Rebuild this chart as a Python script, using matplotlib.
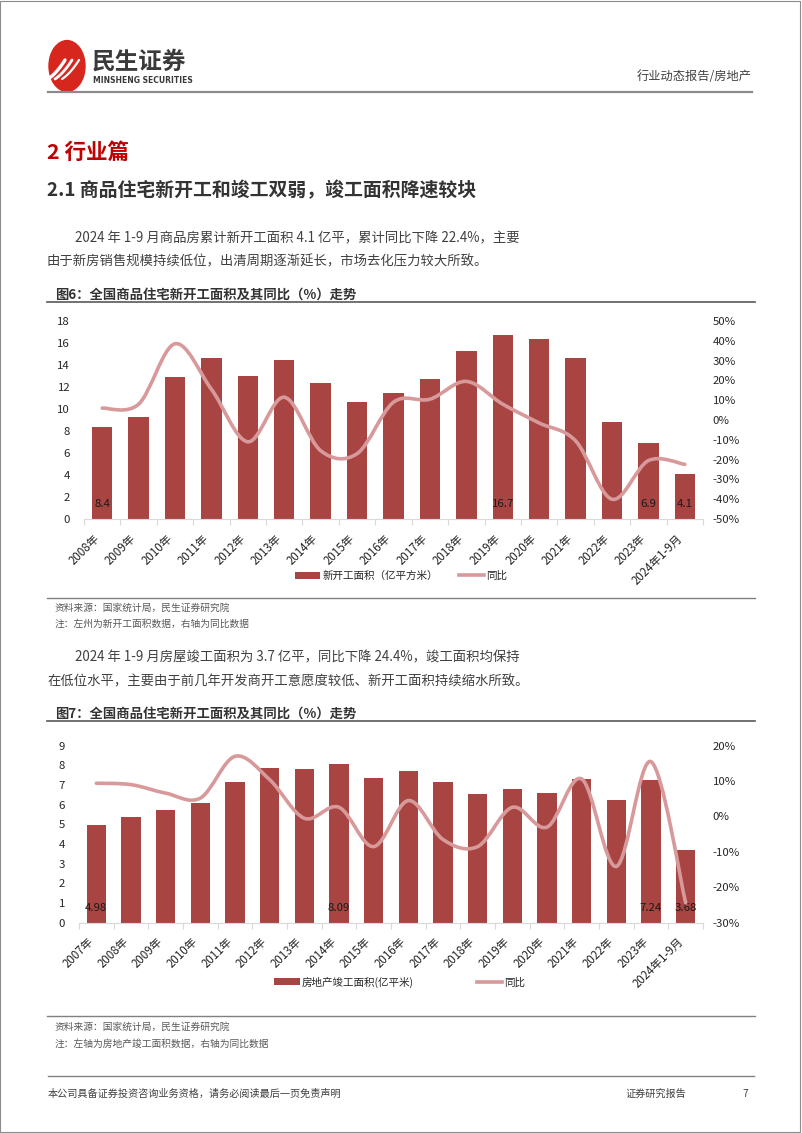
import numpy as np
import matplotlib
matplotlib.use("Agg")
import matplotlib.pyplot as plt
from matplotlib.path import Path
from matplotlib.patches import PathPatch, Patch, Circle, Rectangle
from matplotlib.lines import Line2D
from matplotlib.ticker import FixedLocator, FuncFormatter

plt.rcParams["font.family"] = ["Noto Sans CJK SC", "DejaVu Sans"]
plt.rcParams["axes.unicode_minus"] = False

# ---- data: figure 6 (new starts) ----
starts_cats = ["2008年", "2009年", "2010年", "2011年", "2012年", "2013年", "2014年",
               "2015年", "2016年", "2017年", "2018年", "2019年", "2020年", "2021年",
               "2022年", "2023年", "2024年1-9月"]
starts_area = [8.4, 9.3, 12.9, 14.6, 13.0, 14.5, 12.4, 10.6, 11.5, 12.7, 15.3, 16.7,
               16.4, 14.6, 8.8, 6.9, 4.1]
starts_yoy = [6.0, 8.0, 38.5, 15.5, -11.0, 11.5, -15.5, -17.0, 9.0, 10.5, 19.5, 8.0,
              -1.5, -10.5, -40.0, -20.5, -22.4]
starts_labeled = [0, 11, 15, 16]

# ---- data: figure 7 (completions) ----
compl_cats = ["2007年", "2008年", "2009年", "2010年", "2011年", "2012年", "2013年",
              "2014年", "2015年", "2016年", "2017年", "2018年", "2019年", "2020年",
              "2021年", "2022年", "2023年", "2024年1-9月"]
compl_area = [4.98, 5.40, 5.75, 6.10, 7.15, 7.86, 7.84, 8.09, 7.35, 7.70, 7.15, 6.56,
              6.80, 6.59, 7.30, 6.25, 7.24, 3.68]
compl_yoy = [9.4, 9.0, 6.6, 5.2, 17.0, 10.4, -0.5, 2.6, -8.5, 4.5, -6.5, -8.5, 2.6,
             -3.0, 10.6, -14.1, 15.5, -24.4]
compl_labeled = [0, 7, 16, 17]

BAR = "#A84543"
LINE = "#D8999A"
W, H = 802, 1133


def fx(x):
    return x / W


def fy(y):
    return 1 - y / H


def smooth_path(xs, ys):
    # Excel-like smoothed line: Catmull-Rom as cubic Bezier segments
    pts = np.column_stack([xs, ys]).astype(float)
    n = len(pts)
    verts = [pts[0]]
    codes = [Path.MOVETO]
    for i in range(n - 1):
        p0 = pts[i - 1] if i > 0 else pts[i]
        p1, p2 = pts[i], pts[i + 1]
        p3 = pts[i + 2] if i + 2 < n else pts[i + 1]
        verts += [p1 + (p2 - p0) / 6, p2 - (p3 - p1) / 6, p2]
        codes += [Path.CURVE4] * 3
    return Path(verts, codes)


def combo_chart(fig, rect, cats, area, yoy, labeled, ymax, ystep, rlim, rstep, ndec):
    ax = fig.add_axes(rect)
    x = np.arange(len(cats))
    ax.bar(x, area, width=0.56, color=BAR, zorder=2)
    ax.set_xlim(-0.5, len(cats) - 0.5)
    ax.set_ylim(0, ymax)
    ax.set_yticks(np.arange(0, ymax + 0.01, ystep))
    ax.yaxis.set_major_formatter(FuncFormatter(lambda v, p: f"{v:.0f}"))
    ax.tick_params(axis="y", length=0, pad=10, labelsize=8.2, labelcolor="#262626")
    ax.set_xticks(x)
    ax.set_xticklabels(cats, rotation=45, ha="right", va="top",
                       fontsize=8.3, color="#262626")
    ax.tick_params(axis="x", which="major", length=0, pad=9)
    ax.xaxis.set_minor_locator(FixedLocator(np.arange(-0.5, len(cats), 1.0)))
    ax.tick_params(axis="x", which="minor", length=4, color="#D9D9D9", width=0.8)
    for s in ["top", "left", "right"]:
        ax.spines[s].set_visible(False)
    ax.spines["bottom"].set_color("#D9D9D9")
    ax.spines["bottom"].set_linewidth(0.8)
    for i in labeled:
        ax.annotate(f"{area[i]:.{ndec}f}", xy=(i, 0), xytext=(0, 10.5),
                    textcoords="offset points", ha="center", va="center",
                    fontsize=8.2, color="#1a1a1a", zorder=4)

    ax2 = ax.twinx()
    ax2.set_ylim(*rlim)
    ax2.set_yticks(np.arange(rlim[0], rlim[1] + 0.01, rstep))
    ax2.yaxis.set_major_formatter(FuncFormatter(lambda v, p: f"{v:.0f}%"))
    ax2.tick_params(axis="y", length=0, pad=7, labelsize=8.2, labelcolor="#262626")
    for s in ax2.spines.values():
        s.set_visible(False)
    ax2.add_patch(PathPatch(smooth_path(x, yoy), facecolor="none", edgecolor=LINE,
                            lw=2.6, capstyle="round", joinstyle="round", zorder=3))
    return ax, ax2


fig = plt.figure(figsize=(W / 100, H / 100), dpi=100)

# page border
fig.patches.append(Rectangle((0.0006, 0.0005), 0.9975, 0.9985, transform=fig.transFigure,
                             fill=False, edgecolor="#8c8c8c", lw=0.8))

# ---- header ----
logo = Circle((fx(67), fy(66)), 18 / W, transform=fig.transFigure, color="#D7261E")
fig.patches.append(logo)
for k, dx in enumerate([-9, -2, 5]):
    t = np.linspace(0, 1, 20)
    xs = 57 + dx + 17 * t
    ys = 79 - 19 * t + 8 * t * (1 - t)
    fig.lines.append(Line2D(fx(xs), fy(ys), transform=fig.transFigure, color="white",
                            lw=2.4 - 0.4 * k, solid_capstyle="round"))
fig.text(fx(92), fy(62), "民生证券", fontsize=17, fontweight="bold", color="#3a3a3a",
         va="center", ha="left")
fig.text(fx(93), fy(80.5), "MINSHENG SECURITIES", fontsize=5.5, fontweight="bold",
         color="#3a3a3a", va="center", ha="left", family="DejaVu Sans")
fig.text(fx(752), fy(77), "行业动态报告/房地产", fontsize=8.8, color="#404040",
         va="center", ha="right")
fig.lines.append(Line2D([fx(48), fx(752)], [fy(92), fy(92)], transform=fig.transFigure,
                        color="#8c8c8c", lw=1.6))

# ---- section titles and text ----
fig.text(fx(47), fy(152), "2 行业篇", fontsize=15.5, fontweight="bold", color="#C00000",
         va="center")
fig.text(fx(47), fy(191), "2.1 商品住宅新开工和竣工双弱，竣工面积降速较块", fontsize=13.6,
         fontweight="bold", color="#333333", va="center")
body = dict(fontsize=9.6, color="#404040", va="center")
fig.text(fx(75), fy(238), "2024 年 1-9 月商品房累计新开工面积 4.1 亿平，累计同比下降 22.4%，主要",
         **body)
fig.text(fx(47), fy(261), "由于新房销售规模持续低位，出清周期逐渐延长，市场去化压力较大所致。",
         **body)

ttl = dict(fontsize=9.6, fontweight="bold", color="#333333", va="center")
src = dict(fontsize=7, color="#595959", va="center")


def rule(y, x0=47, x1=755, color="#595959", lw=1.2):
    fig.lines.append(Line2D([fx(x0), fx(x1)], [fy(y), fy(y)], transform=fig.transFigure,
                            color=color, lw=lw))


fig.text(fx(55), fy(295), "图6：全国商品住宅新开工面积及其同比（%）走势", **ttl)
rule(302)

combo_chart(fig, [fx(84), fy(519), fx(703) - fx(84), fy(321) - fy(519)],
            starts_cats, starts_area, starts_yoy, starts_labeled,
            18, 2, (-50, 50), 10, 1)

h1 = [Patch(facecolor=BAR), Line2D([0], [0], color=LINE, lw=2.6)]
fig.legend(h1, ["新开工面积（亿平方米）", "同比"], loc="center",
           bbox_to_anchor=(fx(401), fy(576)), ncol=2, frameon=False, fontsize=7.6,
           handlelength=2.4, handleheight=0.7, handletextpad=0.2, columnspacing=2.0,
           labelcolor="#262626")

rule(598, color="#808080", lw=1.0)
fig.text(fx(55), fy(608), "资料来源：国家统计局，民生证券研究院", **src)
fig.text(fx(55), fy(624), "注：左州为新开工面积数据，右轴为同比数据", **src)

fig.text(fx(75), fy(657), "2024 年 1-9 月房屋竣工面积为 3.7 亿平，同比下降 24.4%，竣工面积均保持",
         **body)
fig.text(fx(47), fy(681), "在低位水平，主要由于前几年开发商开工意愿度较低、新开工面积持续缩水所致。",
         **body)

fig.text(fx(55), fy(714), "图7：全国商品住宅新开工面积及其同比（%）走势", **ttl)
rule(721)

combo_chart(fig, [fx(79), fy(922.7), fx(703) - fx(79), fy(745.7) - fy(922.7)],
            compl_cats, compl_area, compl_yoy, compl_labeled,
            9, 1, (-30, 20), 10, 2)

h2 = [Patch(facecolor=BAR), Line2D([0], [0], color=LINE, lw=2.6)]
fig.legend(h2, ["房地产竣工面积(亿平米)", "同比"], loc="center",
           bbox_to_anchor=(fx(400), fy(982)), ncol=2, frameon=False, fontsize=7.6,
           handlelength=2.4, handleheight=0.7, handletextpad=0.2, columnspacing=6.0,
           labelcolor="#262626")

rule(1016, color="#808080", lw=1.0)
fig.text(fx(55), fy(1027), "资料来源：国家统计局，民生证券研究院", **src)
fig.text(fx(55), fy(1044), "注：左轴为房地产竣工面积数据，右轴为同比数据", **src)

# ---- footer ----
rule(1076, x0=48, x1=754, color="#808080", lw=1.0)
foot = dict(fontsize=7.3, color="#404040", va="center")
fig.text(fx(48), fy(1094), "本公司具备证券投资咨询业务资格，请务必阅读最后一页免责声明", **foot)
fig.text(fx(626), fy(1094), "证券研究报告", **foot)
fig.text(fx(742), fy(1094), "7", **foot)

fig.savefig("out.png", dpi=100)
